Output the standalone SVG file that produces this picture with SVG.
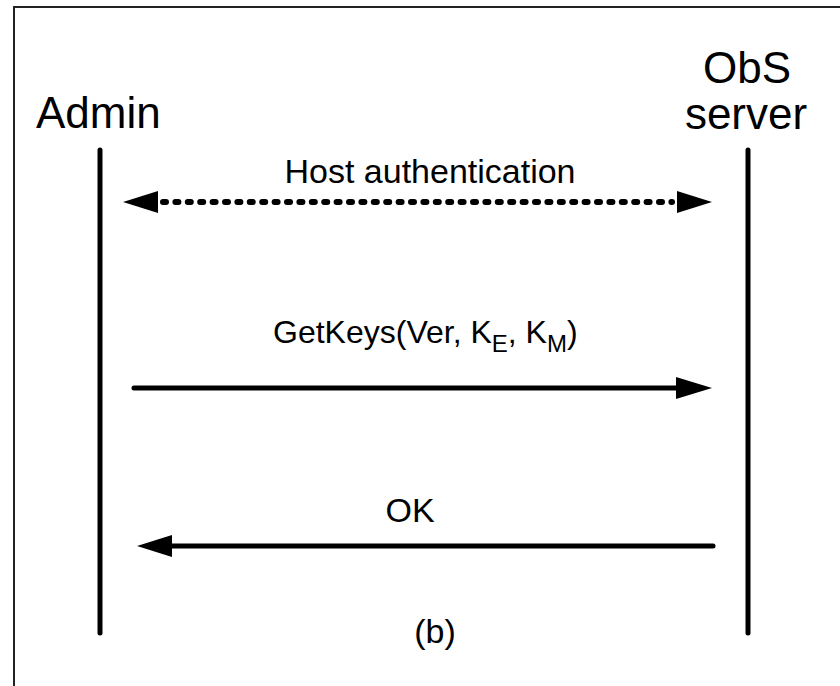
<svg xmlns="http://www.w3.org/2000/svg" width="840" height="686" viewBox="0 0 840 686">
  <defs>
    <style>
      .label { font-family: "Liberation Sans", Arial, sans-serif; fill: #000; }
      .actor { font-size: 44px; }
      .msg { font-size: 32px; }
      .big { font-size: 34px; }
      .sub { font-size: 24px; }
      .lifeline { stroke: #000; stroke-width: 5; stroke-linecap: round; fill: none; }
      .arrow { stroke: #000; stroke-width: 5; fill: none; }
      .dotted { stroke-width: 6; stroke-dasharray: 3 9.4; stroke-linecap: round; }
      .head { fill: #000; }
    </style>
  </defs>

  <rect width="840" height="686" fill="#fff"/>
  <!-- outer frame -->
  <rect x="14" y="7" width="900" height="800" fill="none" stroke="#222" stroke-width="2"/>

  <g id="admin">
    <text class="label actor" x="36" y="128">Admin</text>
    <line class="lifeline" x1="100" y1="150" x2="100" y2="633"/>
  </g>

  <g id="obs-server">
    <text class="label actor" x="747" y="83" text-anchor="middle">ObS</text>
    <text class="label actor" x="746" y="129" text-anchor="middle">server</text>
    <line class="lifeline" x1="748" y1="150" x2="748" y2="633"/>
  </g>

  <g id="connectors">
    <!-- host authentication, both directions -->
    <line class="arrow dotted" x1="163" y1="202" x2="672" y2="202"/>
    <polygon class="head" points="123,202 158,191 158,213"/>
    <polygon class="head" points="712,202 677,191 677,213"/>
    <text class="label big" x="430" y="183" text-anchor="middle">Host authentication</text>

    <!-- GetKeys request -->
    <line class="arrow" x1="134" y1="388" x2="678" y2="388" stroke-linecap="round"/>
    <polygon class="head" points="712,388 676,377 676,399"/>
    <text class="label msg" x="273" y="343">GetKeys(Ver, K<tspan class="sub" dy="9">E</tspan><tspan dy="-9">, K</tspan><tspan class="sub" dy="9">M</tspan><tspan dy="-9">)</tspan></text>

    <!-- OK reply -->
    <line class="arrow" x1="713" y1="546" x2="170" y2="546" stroke-linecap="round"/>
    <polygon class="head" points="137,546 172,535 172,557"/>
    <text class="label big" x="410" y="522" text-anchor="middle">OK</text>
  </g>

  <text class="label big" x="435" y="643" text-anchor="middle">(b)</text>
</svg>
